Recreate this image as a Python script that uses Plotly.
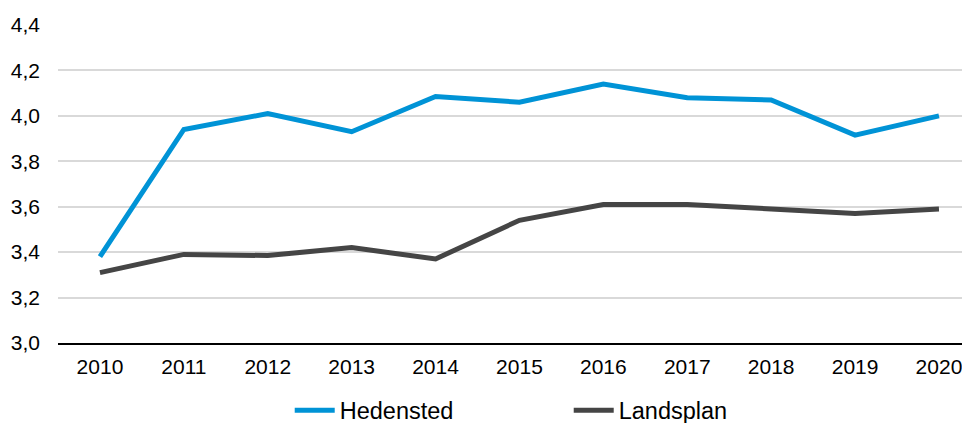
"""Line chart: Hedensted vs. Landsplan, 2010-2020."""

import plotly.graph_objects as go

years = ["2010", "2011", "2012", "2013", "2014", "2015", "2016", "2017", "2018", "2019", "2020"]
hedensted = [3.38, 3.94, 4.01, 3.93, 4.085, 4.06, 4.14, 4.08, 4.07, 3.915, 4.00]
landsplan = [3.31, 3.39, 3.385, 3.42, 3.37, 3.54, 3.61, 3.61, 3.59, 3.57, 3.59]
y_ticks = [3.0, 3.2, 3.4, 3.6, 3.8, 4.0, 4.2, 4.4]
y_tick_labels = [f"{v:.1f}".replace(".", ",") for v in y_ticks]

fig = go.Figure()

fig.add_trace(
    go.Scatter(
        x=years,
        y=hedensted,
        mode="lines",
        name="Hedensted",
        line={"color": "#0093D6", "width": 5},
    )
)
fig.add_trace(
    go.Scatter(
        x=years,
        y=landsplan,
        mode="lines",
        name="Landsplan",
        line={"color": "#454545", "width": 5},
    )
)

# the page body adds an 8px offset, so margins are trimmed to compensate
fig.update_layout(
    width=970,
    height=423,
    margin={"l": 50, "r": 8, "t": 17, "b": 88, "autoexpand": False},
    paper_bgcolor="white",
    plot_bgcolor="white",
    font={"family": "Liberation Sans, Arial, sans-serif", "size": 21, "color": "#000000"},
    showlegend=True,
    legend={
        "orientation": "h",
        "x": 0.56,
        "xanchor": "center",
        "y": -0.212,
        "yanchor": "middle",
        "font": {"size": 23.5},
        "entrywidth": 224,
        "itemwidth": 40,
    },
)

fig.update_xaxes(
    type="category",
    range=[-0.5, 10.37],
    automargin=False,
    showgrid=False,
    showline=True,
    linecolor="#000000",
    linewidth=2,
    ticks="",
    ticklabelstandoff=4,
)
fig.update_yaxes(
    range=[3.0, 4.4],
    automargin=False,
    tickvals=y_ticks,
    ticktext=y_tick_labels,
    showgrid=True,
    gridcolor="#D9D9D9",
    gridwidth=1.5,
    zeroline=False,
    showline=False,
    ticks="",
    ticklabelstandoff=17,
)

fig.write_html("out.html")
